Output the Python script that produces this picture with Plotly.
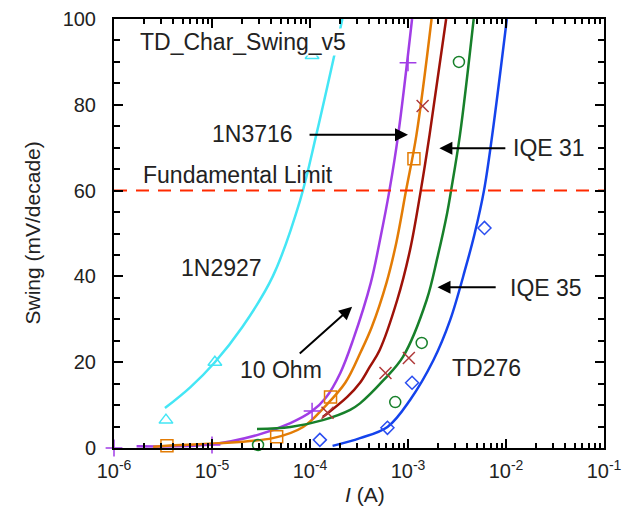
import math
import plotly.graph_objects as go

# ---------------- data ----------------
# Fitted curves: current I (A) and swing (mV/decade)
cyan_x = [3.31e-6, 6.03e-6, 1.07e-5, 2.04e-5, 4.17e-5, 7.94e-5, 1.17e-4, 2.14e-4]
cyan_y = [9.3, 14.2, 20, 28.2, 40, 57.8, 73.4, 100]

purple_x = [1.70e-6, 9.55e-6, 2.88e-5, 6.31e-5, 1.05e-4, 1.45e-4, 2.04e-4, 2.75e-4,
            4.17e-4, 5.25e-4, 6.46e-4, 7.94e-4, 1.10e-3]
purple_y = [0.4, 0.8, 3.0, 5.8, 8.6, 11.7, 17.5, 25.2, 38.5, 49.2, 60, 73, 100]

orange_x = [2.51e-6, 3.47e-6, 4.17e-5, 8.51e-5, 1.41e-4, 2.29e-4, 3.31e-4, 4.27e-4,
            6.03e-4, 7.59e-4, 9.55e-4, 1.22e-3, 1.74e-3]
orange_y = [0.3, 0.5, 2.3, 4.9, 9.6, 15.2, 22.5, 28.2, 38.5, 47.8, 60, 73, 100]

darkred_x = [1.35e-4, 2.40e-4, 3.24e-4, 4.07e-4, 5.13e-4, 7.76e-4, 1.05e-3, 1.35e-3,
             1.66e-3, 2.45e-3]
darkred_y = [7.2, 11.9, 15.2, 18.9, 22.8, 34.5, 46.2, 60, 73, 100]

green_x = [2.88e-5, 6.31e-5, 1.35e-4, 2.57e-4, 3.24e-4, 5.62e-4, 8.91e-4, 1.55e-3,
           2.0e-3, 2.51e-3, 2.75e-3, 3.39e-3, 4.68e-3]
green_y = [4.4, 4.9, 6.5, 8.9, 10.4, 15.8, 21.3, 34.5, 44.5, 54.8, 60, 73, 100]

blue_x = [1.70e-4, 3.24e-4, 6.17e-4, 1.05e-3, 1.82e-3, 2.69e-3, 3.89e-3, 4.79e-3,
          5.96e-3, 7.24e-3, 1.02e-2]
blue_y = [0.5, 2.3, 4.9, 11.2, 20.5, 29.8, 42.2, 50, 60, 73, 100]

# Measured points
tri_x = [3.39e-6, 1.07e-5, 1.05e-4]
tri_y = [6.5, 20, 91.5]
plus_x = [1e-6, 1e-5, 1.05e-4, 1.0e-3]
plus_y = [0, 0.7, 8.6, 89.8]
sq_x = [3.47e-6, 4.57e-5, 1.62e-4, 1.15e-3]
sq_y = [0.5, 2.6, 11.9, 67.4]
xm_x = [1.51e-4, 5.89e-4, 1.02e-3, 1.41e-3]
xm_y = [8.2, 17.5, 21.0, 79.7]
circ_x = [2.95e-5, 7.41e-4, 1.38e-3, 3.31e-3]
circ_y = [0.7, 10.7, 24.5, 90]
dia_x = [1.26e-4, 6.17e-4, 1.10e-3, 6.03e-3]
dia_y = [1.9, 4.7, 15.2, 51.3]

limit_x = [1e-6, 1e-1]
limit_y = [60, 60]

x_tickvals = [1e-6, 1e-5, 1e-4, 1e-3, 1e-2, 1e-1]
x_ticktext = ["10<sup>-6</sup>", "10<sup>-5</sup>", "10<sup>-4</sup>",
              "10<sup>-3</sup>", "10<sup>-2</sup>", "10<sup>-1</sup>"]
y_tickvals = [0, 20, 40, 60, 80, 100]

FONT = "Liberation Sans, Arial, sans-serif"
TXT = "#222222"

fig = go.Figure()

curves = [
    (cyan_x, cyan_y, "#44e6f5"),
    (purple_x, purple_y, "#a13de6"),
    (orange_x, orange_y, "#e37c05"),
    (darkred_x, darkred_y, "#9e1208"),
    (green_x, green_y, "#17802a"),
    (blue_x, blue_y, "#1443ec"),
]
for cx, cy, col in curves:
    fig.add_trace(go.Scatter(x=cx, y=cy, mode="lines",
                             line=dict(color=col, width=2.5, shape="spline", smoothing=1.0),
                             showlegend=False, hoverinfo="skip"))

fig.add_trace(go.Scatter(x=limit_x, y=limit_y, mode="lines",
                         line=dict(color="#ff2a00", width=2, dash="13px,9px"),
                         showlegend=False))

markers = [
    (tri_x, tri_y, "triangle-up-open", "#44e6f5", 12),
    (plus_x, plus_y, "cross-thin-open", "#a13de6", 12),
    (sq_x, sq_y, "square-open", "#e37c05", 12),
    (xm_x, xm_y, "x-thin-open", "#b03a3a", 12),
    (circ_x, circ_y, "circle-open", "#17802a", 11),
    (dia_x, dia_y, "diamond-open", "#2a4df0", 10),
]
for mx, my, sym, col, sz in markers:
    fig.add_trace(go.Scatter(x=mx, y=my, mode="markers", cliponaxis=False,
                             marker=dict(symbol=sym, size=sz, color=col,
                                         line=dict(color=col, width=1.5)),
                             showlegend=False))

axis_common = dict(showline=True, linewidth=2, linecolor="black", mirror="ticks",
                   ticks="inside", ticklen=9, tickwidth=2, tickcolor="black",
                   showgrid=False, zeroline=False, automargin=False,
                   tickfont=dict(family=FONT, size=20, color=TXT))

fig.update_xaxes(type="log", range=[-6, -1], tickvals=x_tickvals, ticktext=x_ticktext,
                 minor=dict(ticks="inside", ticklen=5, tickwidth=1.5, tickcolor="black",
                            tickvals=[m * 10.0 ** e for e in range(-6, -1) for m in range(2, 10)]),
                 ticklabelstandoff=4, **axis_common)
fig.update_yaxes(range=[0, 100], tickvals=y_tickvals,
                 minor=dict(ticks="inside", ticklen=6, tickwidth=1.5, tickcolor="black", dtick=5),
                 ticklabelstandoff=12, **axis_common)

L = math.log10


def note(text, x, y, size=23, **kw):
    fig.add_annotation(x=L(x), y=y, xref="x", yref="y", text=text, showarrow=False,
                       font=dict(family=FONT, size=size, color=TXT), **kw)


note("TD_Char_Swing_v5", 2.09e-5, 94.6, bgcolor="white", borderpad=0)
note("1N3716", 2.57e-5, 73.2)
note("Fundamental Limit", 1.86e-5, 63.6)
note("IQE 31", 2.75e-2, 69.9)
note("1N2927", 1.26e-5, 42)
note("10 Ohm", 5.0e-5, 18.2)
note("IQE 35", 2.57e-2, 37.3)
note("TD276", 6.31e-3, 18.6)


def arrow(hx, hy, tx, ty):
    fig.add_annotation(x=L(hx), y=hy, ax=L(tx), ay=ty, xref="x", yref="y", axref="x", ayref="y",
                       text="", showarrow=True, arrowhead=2, arrowsize=1.3, arrowwidth=2,
                       arrowcolor="black")


arrow(1.0e-3, 73.0, 9.55e-5, 73.0)
arrow(2.09e-3, 69.9, 1.02e-2, 69.9)
arrow(2.69e-4, 32.9, 7.59e-5, 21.7)
arrow(2.0e-3, 37.5, 8.13e-3, 37.5)

# axis titles
fig.add_annotation(x=0, y=0.5, xref="paper", yref="paper", xanchor="center", yanchor="middle",
                   xshift=-82, text="Swing (mV/decade)", textangle=-90, showarrow=False,
                   font=dict(family=FONT, size=21, color=TXT))
fig.add_annotation(x=0.512, y=0, xref="paper", yref="paper", xanchor="center", yanchor="middle",
                   yshift=-46, text="<i>I</i> (A)", showarrow=False,
                   font=dict(family=FONT, size=21, color=TXT))

# the page body adds an 8px offset, so margins are shifted to compensate
fig.update_layout(width=632, height=516, margin=dict(l=106, r=36, t=11, b=76),
                  paper_bgcolor="white", plot_bgcolor="white")

fig.write_html("out.html")
